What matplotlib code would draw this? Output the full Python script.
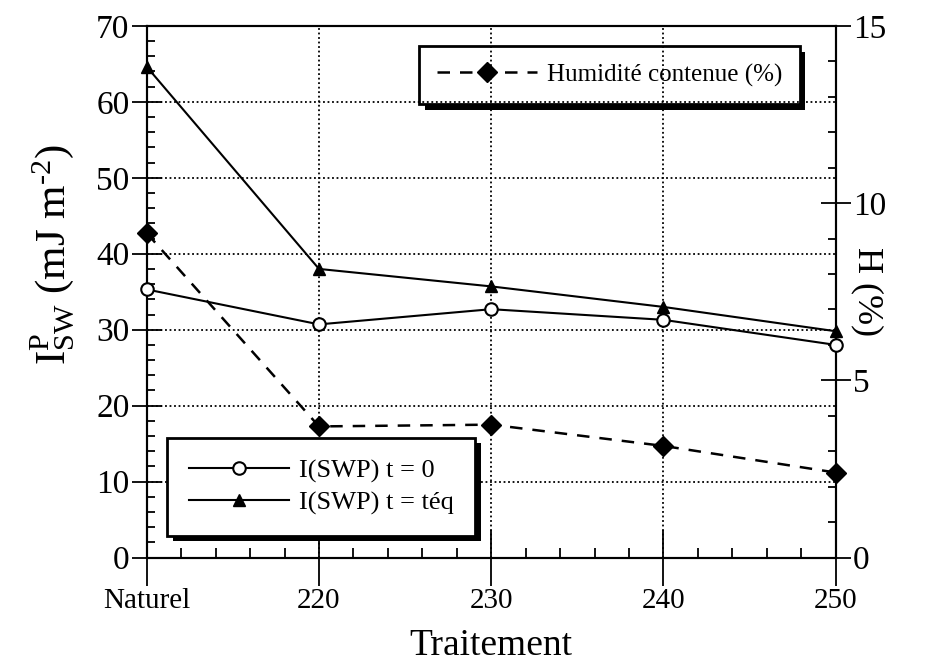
import numpy as np
import matplotlib
matplotlib.use("Agg")
import matplotlib.pyplot as plt
from matplotlib.ticker import MultipleLocator, FixedLocator
import matplotlib.patheffects as pe

plt.rcParams["font.family"] = ["Liberation Serif", "DejaVu Serif"]
plt.rcParams["mathtext.fontset"] = "custom"
plt.rcParams["mathtext.rm"] = "Liberation Serif"
plt.rcParams["mathtext.it"] = "Liberation Serif:italic"

# treatment positions ("Naturel" placed at 210)
x_pos = [210, 220, 230, 240, 250]
x_labels = ["Naturel", "220", "230", "240", "250"]

# surface energy (left axis, mJ m-2)
swp_t0 = [35.3, 30.7, 32.7, 31.3, 28.0]
swp_teq = [64.6, 38.0, 35.7, 33.0, 29.8]

# moisture content (right axis, %)
humidity = [9.15, 3.7, 3.75, 3.15, 2.4]

fig = plt.figure(figsize=(9.41, 6.63), dpi=100)
ax1 = fig.add_axes([0.156, 0.159, 0.732, 0.802])
ax2 = ax1.twinx()

ax1.plot(x_pos, swp_t0, color="black", lw=1.5, marker="o", ms=9,
         mfc="white", mec="black", mew=1.5, label="I(SWP) t = 0",
         zorder=5, clip_on=False)
ax1.plot(x_pos, swp_teq, color="black", lw=1.5, marker="^", ms=9,
         mfc="black", label="I(SWP) t = téq", zorder=5, clip_on=False)
ax2.plot(x_pos, humidity, color="black", lw=1.8, ls=(0, (5, 4)), marker="D",
         ms=10, mfc="black", label="Humidité contenue (%)", zorder=5,
         clip_on=False)

# ranges
ax1.set_xlim(210, 250)
ax1.set_ylim(0, 70)
ax2.set_ylim(0, 15)

# ticks
ax1.xaxis.set_major_locator(FixedLocator(x_pos))
ax1.set_xticklabels(x_labels)
ax1.xaxis.set_minor_locator(MultipleLocator(2))
ax1.yaxis.set_major_locator(MultipleLocator(10))
ax1.yaxis.set_minor_locator(MultipleLocator(2))
ax2.yaxis.set_major_locator(MultipleLocator(5))
ax2.yaxis.set_minor_locator(MultipleLocator(1))

ax1.tick_params(axis="y", which="major", direction="inout", length=21, width=1.3,
                labelsize=24, pad=2)
ax1.tick_params(axis="y", which="minor", direction="in", length=6, width=1.3)
ax1.tick_params(axis="x", which="major", direction="inout", length=40, width=1.3,
                labelsize=21, pad=2)
ax1.tick_params(axis="x", which="minor", direction="in", length=7, width=1.3)
ax2.tick_params(axis="y", which="major", direction="inout", length=21, width=1.3,
                labelsize=24, pad=2)
ax2.tick_params(axis="y", which="minor", direction="in", length=6, width=1.3)

for ax in (ax1, ax2):
    for s in ax.spines.values():
        s.set_linewidth(1.5)

# grid
ax1.grid(True, which="major", color="black", ls=(0, (1, 1.5)), lw=1.3)
ax1.set_axisbelow(True)

# labels
ax1.set_xlabel("Traitement", fontsize=27, labelpad=10)
ax1.set_ylabel(r"$\mathrm{I}^{\mathrm{P}}_{\mathrm{SW}}$ (mJ m$^{\text{-2}}$)",
               fontsize=31, ha="center", va="center")
ax1.yaxis.set_label_coords(-0.138, 0.57)
ax2.set_ylabel("H (%)", fontsize=26, rotation=270, ha="center", va="center")
ax2.yaxis.set_label_coords(1.046, 0.5)

# legends
shadow = [pe.SimplePatchShadow(offset=(4, -4), shadow_rgbFace="black", alpha=1),
          pe.Normal()]
leg1 = ax1.legend(loc="lower left", bbox_to_anchor=(0.03, 0.041), fontsize=19,
                  handlelength=3.8, borderaxespad=0, fancybox=False,
                  edgecolor="black", framealpha=1, handletextpad=0.4,
                  labelspacing=0.3, borderpad=0.8)
leg1.get_frame().set_linewidth(2)
leg1.get_frame().set_path_effects(shadow)
leg2 = ax2.legend(loc="upper right", bbox_to_anchor=(0.948, 0.962), fontsize=18,
                  handlelength=4, borderaxespad=0, fancybox=False,
                  edgecolor="black", framealpha=1, handletextpad=0.4,
                  borderpad=0.7)
leg2.get_frame().set_linewidth(2)
leg2.get_frame().set_path_effects(shadow)
ax1.set_zorder(ax2.get_zorder() + 1)
ax1.patch.set_visible(False)

fig.savefig("out.png", dpi=100)
